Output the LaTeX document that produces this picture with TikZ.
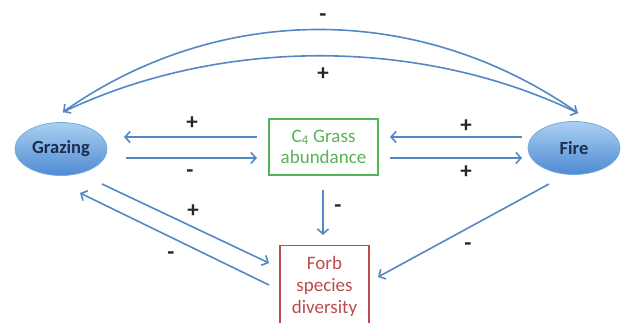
\documentclass[tikz,border=0pt]{standalone}
\usepackage{fontspec}
\setmainfont{Carlito}
\usetikzlibrary{arrows.meta,shapes.geometric}
\definecolor{arrowblue}{RGB}{84,136,196}
\definecolor{ellbord}{RGB}{120,170,220}
\definecolor{elltop}{RGB}{170,208,242}
\definecolor{ellbot}{RGB}{78,138,210}
\definecolor{navytext}{RGB}{30,45,75}
\definecolor{grassgreen}{RGB}{85,180,85}
\definecolor{forbred}{RGB}{190,75,75}
\tikzset{
  ell/.style={ellipse, draw=ellbord, line width=0.8pt, top color=elltop, bottom color=ellbot,
    minimum width=92pt, minimum height=53pt, inner sep=0pt, text=navytext,
    font=\fontsize{18.5}{20}\selectfont\bfseries},
  grassbox/.style={draw=grassgreen, line width=1.3pt, minimum width=109pt, minimum height=56pt,
    inner sep=0pt, text=grassgreen, align=center, font=\fontsize{19}{21.5}\selectfont},
  forbbox/.style={draw=forbred, line width=1.3pt, minimum width=89pt, minimum height=95pt,
    inner sep=0pt, text=forbred, align=center, font=\fontsize{19}{22}\selectfont, anchor=north},
  link/.style={draw=arrowblue, line width=1.6pt, -{Straight Barb[length=5pt,width=11pt]}},
  sign/.style={font=\fontsize{23}{24}\selectfont\bfseries, text=black!85, inner sep=0pt}
}
\begin{document}
\begin{tikzpicture}[x=1pt,y=-1pt]
\clip (0,0) rectangle (621,322);
\fill[white] (0,0) rectangle (621,322);
\node[ell] (graz) at (61,149) {Grazing};
\node[ell] (fire) at (574,148) {Fire};
\node[grassbox] (grass) at (323.5,147) {C\textsubscript{4} Grass\\abundance};
\node[forbbox, text depth=0pt, text height=0pt, font=\fontsize{1}{1}\selectfont] (forb) at (324.5,245) {};
\node[text=forbred, align=center, font=\fontsize{19}{22}\selectfont, inner sep=0pt] (forbtext) at (324.5,286) {Forb\\species\\diversity};
% endpoints
\coordinate (gA) at (124,137); \coordinate (cA) at (257,137);
\coordinate (gB) at (126,158); \coordinate (cB) at (257,158);
\coordinate (fA) at (522,137); \coordinate (cC) at (390,137);
\coordinate (fB) at (522,158); \coordinate (cD) at (390,158);
\coordinate (cE) at (323,190); \coordinate (bE) at (323,235);
\coordinate (fF) at (549,184); \coordinate (bF) at (378,277);
\coordinate (gG) at (102,184); \coordinate (bG) at (269,263);
\coordinate (bH) at (269,285); \coordinate (gH) at (80,193);
\coordinate (gTop) at (63,112); \coordinate (fTop) at (578,113);
\draw[link] (cA) -- (gA);
\draw[link] (gB) -- (cB);
\draw[link] (fA) -- (cC);
\draw[link] (cD) -- (fB);
\draw[link] (cE) -- (bE);
\draw[link] (fF) -- (bF);
\draw[link] (gG) -- (bG);
\draw[link] (bH) -- (gH);
\draw[link] (fTop) .. controls (420,2) and (220,2) .. (gTop);
\draw[link] (gTop) .. controls (220,37) and (420,37) .. (fTop);
% signs
\node[sign] (s1) at (323,18) {-};
\node[sign] (s2) at (323,74) {+};
\node[sign] (s3) at (192,123) {+};
\node[sign] (s4) at (190,174) {-};
\node[sign] (s5) at (466,126) {+};
\node[sign] (s6) at (466,172) {+};
\node[sign] (s7) at (338,209) {-};
\node[sign] (s8) at (193,211) {+};
\node[sign] (s9) at (171,256) {-};
\node[sign] (s10) at (468,247) {-};
\end{tikzpicture}
\end{document}
